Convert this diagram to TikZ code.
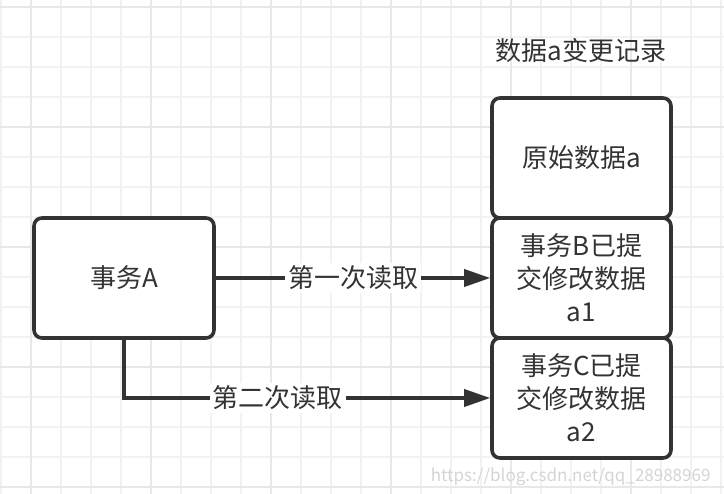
\documentclass[tikz,border=0pt]{standalone}
\usepackage{fontspec}
\setmainfont{Noto Sans CJK SC}
\usetikzlibrary{arrows.meta}
\definecolor{linegray}{HTML}{333333}
\definecolor{gridminor}{HTML}{F2F2F2}
\definecolor{gridmajor}{HTML}{E8E8E8}
\definecolor{markgray}{HTML}{D4D4D4}
\begin{document}
\begin{tikzpicture}[x=1pt, y=-1pt,
    gridline/.style={gridminor, line width=1.6pt},
    gridbold/.style={gridmajor, line width=1.8pt},
    box/.style={draw=linegray, line width=3.6pt, rounded corners=8pt, fill=white,
        text=linegray, minimum width=180pt, minimum height=120pt, align=center,
        font=\fontsize{26}{33}\selectfont},
    readarrow/.style={draw=linegray, line width=3.6pt, -{Triangle[length=26pt, width=17pt]}},
    readlabel/.style={fill=white, text=linegray, inner sep=3pt, font=\fontsize{26}{28}\selectfont}]
    \useasboundingbox (0,0) rectangle (724,494);

    % 背景网格
    \foreach \x in {1,31,...,721} \draw[gridline] (\x,0) -- (\x,494);
    \foreach \y in {7,37,...,487} \draw[gridline] (0,\y) -- (724,\y);
    \foreach \x in {31,151,...,631} \draw[gridbold] (\x,0) -- (\x,494);
    \foreach \y in {7,127,...,487} \draw[gridbold] (0,\y) -- (724,\y);

    % 事务和数据记录
    \node[box] (txa) at (124,278) {事务A};
    \node[box, minimum width=179pt] (rec0) at (581.5,158) {原始数据a};
    \node[box, minimum width=179pt] (rec1) at (581.5,278) {事务B已提\\交修改数据\\a1};
    \node[box, minimum width=179pt] (rec2) at (581.5,398) {事务C已提\\交修改数据\\a2};
    \node[text=linegray, font=\fontsize{26}{28}\selectfont] (title) at (581,51) {数据a变更记录};

    % 两次读取
    \draw[readarrow] (txa.east) -- node[readlabel] {第一次读取} (rec1.west);
    \draw[readarrow] (txa.south) |- node[readlabel, pos=0.71] {第二次读取} (rec2.west);

    % 水印
    \node[anchor=east, text=markgray, font=\fontsize{17}{20}\selectfont] (mark) at (714,477) {https://blog.csdn.net/qq\_28988969};
\end{tikzpicture}
\end{document}
